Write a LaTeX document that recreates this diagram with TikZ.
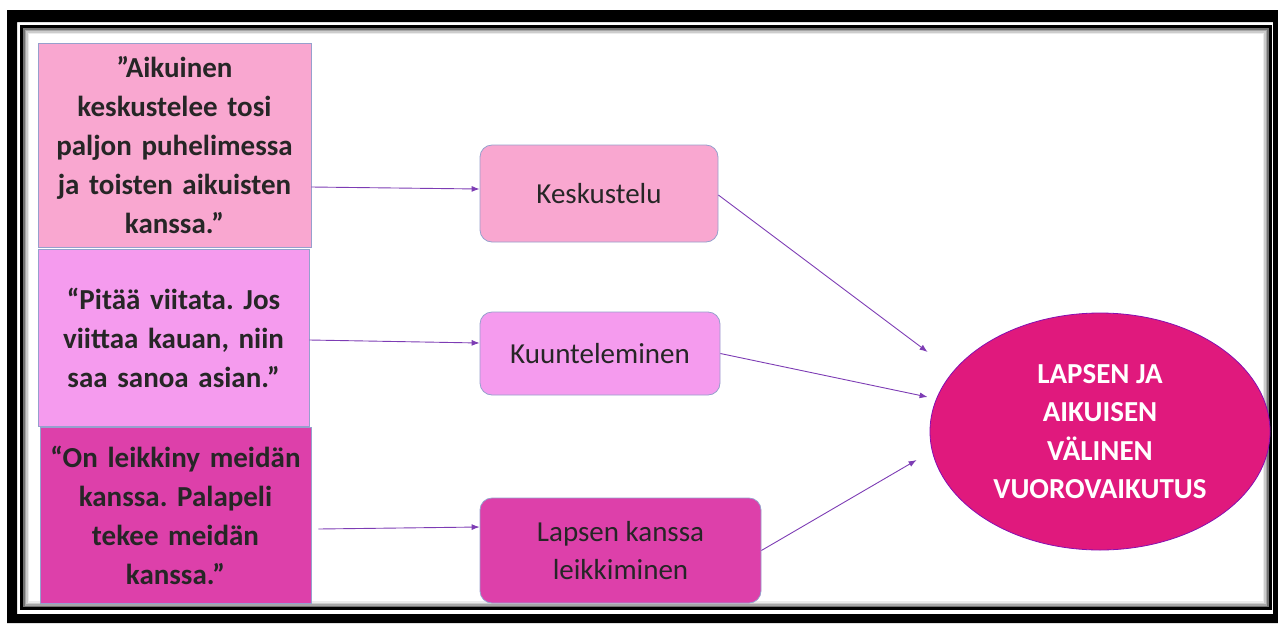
\documentclass[tikz,border=0pt]{standalone}
\usepackage{fontspec}
\setmainfont{Carlito}
\usetikzlibrary{arrows.meta,shapes.geometric}
\definecolor{pinkA}{RGB}{249,167,208}
\definecolor{pinkB}{RGB}{245,155,238}
\definecolor{pinkC}{RGB}{221,64,170}
\definecolor{magE}{RGB}{224,25,125}
\definecolor{edgeB}{RGB}{150,160,205}
\definecolor{arrC}{RGB}{125,60,180}
\tikzset{
  quote/.style={draw=edgeB, line width=0.8pt, align=center, inner sep=0pt,
    font=\fontsize{29}{39}\selectfont\bfseries\frenchspacing, text=black!85},
  midbox/.style={draw=edgeB, line width=0.8pt, rounded corners=12pt, align=center, inner sep=0pt,
    font=\fontsize{29}{38}\selectfont, text=black!85},
  arr/.style={draw=arrC, line width=0.9pt, -{Latex[length=8pt,width=6pt]}}
}
\begin{document}
\begin{tikzpicture}[x=1pt,y=-1pt]
\useasboundingbox (0,0) rectangle (1278,625);
% outer frame
\fill[black,even odd rule] (7,10) rectangle (1278,623) (17,22) rectangle (1273,614);
\draw[black,line width=3pt] (21.5,26.5) rectangle (1270,608.5);
\draw[black!55,line width=1.5pt] (23.75,28.75) rectangle (1267.75,606.25);
\draw[black!35,line width=1.5pt] (25.25,30.25) rectangle (1266.25,604.75);
\draw[black!20,line width=1.5pt] (26.75,31.75) rectangle (1264.75,603.25);
\draw[black!8,line width=1.5pt] (28.25,33.25) rectangle (1263.25,601.75);
% quote boxes
\node[quote, fill=pinkA, minimum width=273pt, minimum height=204pt, text width=266pt] (b1) at (174.5,145)
  {”Aikuinen\\keskustelee tosi\\paljon puhelimessa\\ja toisten aikuisten\\kanssa.”};
\node[quote, fill=pinkB, minimum width=271pt, minimum height=177pt, text width=264pt] (b2) at (173.5,338)
  {“Pitää viitata. Jos\\viittaa kauan, niin\\saa sanoa asian.”};
\node[quote, fill=pinkC, minimum width=271pt, minimum height=176pt, text width=266pt] (b3) at (175.5,515)
  {“On leikkiny meidän\\kanssa. Palapeli\\tekee meidän\\kanssa.”};
% middle boxes
\node[midbox, fill=pinkA, minimum width=238pt, minimum height=97pt] (k) at (599,193.5) {Keskustelu};
\node[midbox, fill=pinkB, minimum width=240pt, minimum height=83pt] (ku) at (600,353.5) {Kuunteleminen};
\node[midbox, fill=pinkC, minimum width=281pt, minimum height=105pt] (l) at (620.5,550.5) {Lapsen kanssa\\leikkiminen};
% ellipse
\node[ellipse, fill=magE, draw=magE!60!blue, line width=0.8pt, minimum width=340pt, minimum height=237pt,
  inner sep=0pt, align=center, text=white, font=\fontsize{29}{38.5}\selectfont\bfseries] (e) at (1100,431.5)
  {LAPSEN JA\\AIKUISEN\\VÄLINEN\\VUOROVAIKUTUS};
% target coordinates near ellipse
\coordinate (t1) at ([xshift=-2pt,yshift=79.5pt]e.west);
\coordinate (t2) at ([xshift=-2pt,yshift=34.5pt]e.west);
\coordinate (t3) at ([xshift=-13pt,yshift=-28.5pt]e.west);
% arrows
\draw[arr] ([yshift=-42pt]b1.east) -- ([yshift=4.5pt]k.west);
\draw[arr] ([yshift=-2pt]b2.east) -- ([yshift=10.5pt]ku.west);
\draw[arr] ([xshift=7pt,yshift=-14pt]b3.east) -- ([yshift=23.5pt]l.west);
\draw[arr] ([yshift=-1.5pt]k.east) -- (t1);
\draw[arr] (ku.east) -- (t2);
\draw[arr] (l.east) -- (t3);
\end{tikzpicture}
\end{document}
